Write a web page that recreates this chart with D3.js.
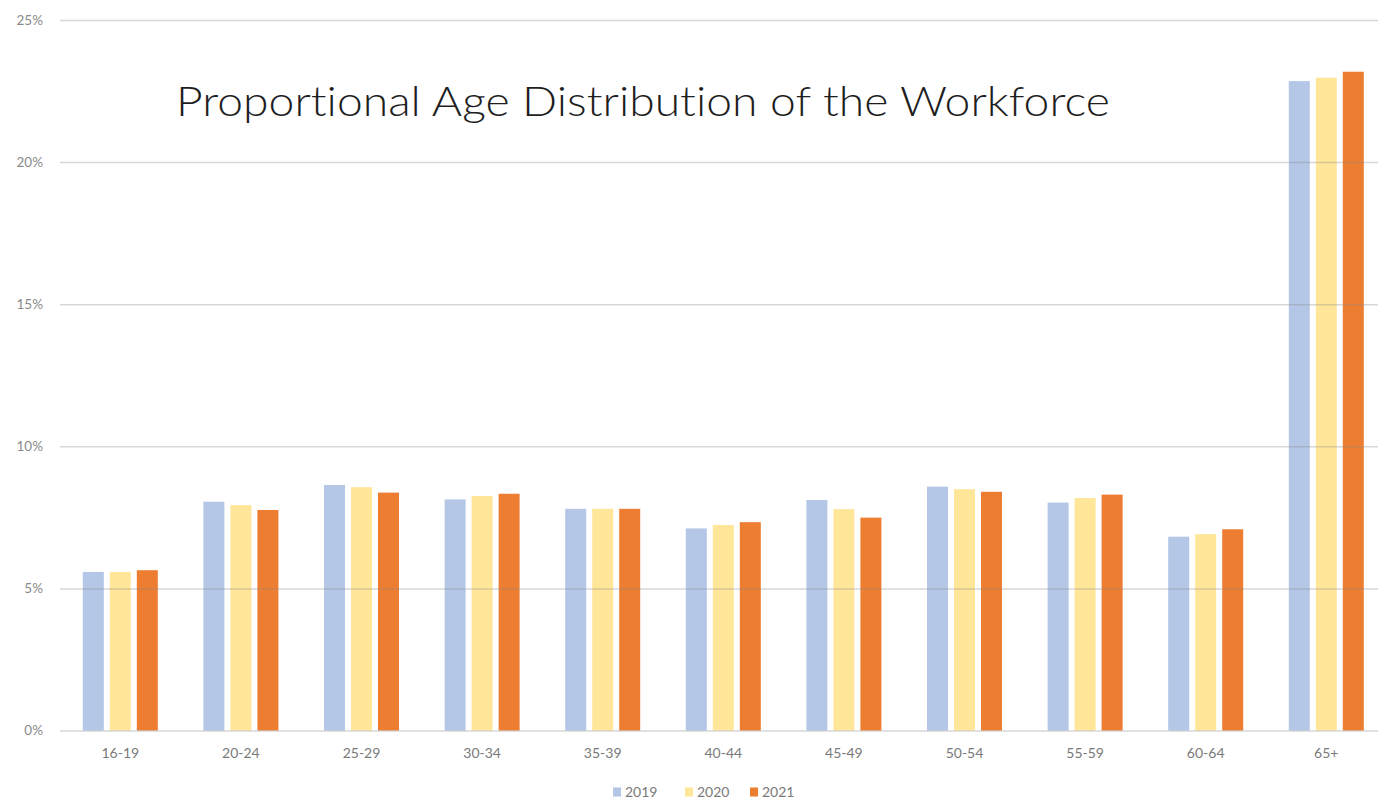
<!DOCTYPE html>
<html>
<head>
<meta charset="utf-8">
<script src="https://cdn.jsdelivr.net/npm/d3@7"></script>
<style>
  html, body { margin: 0; padding: 0; background: #ffffff; }
  svg { display: block; }
</style>
</head>
<body>
<svg id="chart" width="1378" height="802"></svg>
<script>
// Share of the workforce in each age band, by year (percent)
const categories = ["16-19", "20-24", "25-29", "30-34", "35-39", "40-44", "45-49", "50-54", "55-59", "60-64", "65+"];
const seriesNames = ["2019", "2020", "2021"];
const values2019 = [5.58, 8.05, 8.64, 8.13, 7.80, 7.11, 8.11, 8.58, 8.02, 6.82, 22.85];
const values2020 = [5.58, 7.93, 8.56, 8.25, 7.80, 7.23, 7.79, 8.49, 8.18, 6.91, 22.97];
const values2021 = [5.64, 7.76, 8.37, 8.33, 7.80, 7.33, 7.49, 8.40, 8.30, 7.08, 23.18];
const yTicks = [0, 5, 10, 15, 20, 25];
const seriesColors = ["#b4c7e7", "#ffe699", "#ed7d31"];
const titleText = "Proportional Age Distribution of the Workforce";

const seriesValues = [values2019, values2020, values2021];
const rows = categories.map((c, i) => ({
  category: c,
  bars: seriesNames.map((s, j) => ({ series: s, value: seriesValues[j][i] }))
}));

const svg = d3.select("#chart");

const y = d3.scaleLinear().domain([0, 25]).range([730.5, 20]);
const x = d3.scaleBand().domain(categories).range([60, 1386.6]).padding(0);
const xInner = d3.scaleBand().domain(seriesNames).range([-37.5, 37.5]).paddingInner(6 / 27).paddingOuter(0);
const color = d3.scaleOrdinal().domain(seriesNames).range(seriesColors);

// Bars
const groups = svg.append("g").selectAll("g")
  .data(rows)
  .join("g")
  .attr("transform", d => `translate(${x(d.category) + x.bandwidth() / 2},0)`);

groups.selectAll("rect")
  .data(d => d.bars)
  .join("rect")
  .attr("x", d => xInner(d.series))
  .attr("width", xInner.bandwidth())
  .attr("y", d => y(d.value))
  .attr("height", d => y(0) - y(d.value))
  .attr("fill", d => color(d.series));

// Horizontal gridlines, laid over the bars
const yAxis = d3.axisLeft(y)
  .tickValues(yTicks)
  .tickFormat(d => d + "%")
  .tickSize(-(1378 - 60))
  .tickPadding(17);

const yG = svg.append("g")
  .attr("transform", "translate(60,0)")
  .call(yAxis);
yG.select(".domain").remove();
yG.selectAll(".tick line")
  .attr("stroke", "#8c8c8c")
  .attr("stroke-opacity", 0.35)
  .attr("stroke-width", 1.5);
yG.selectAll(".tick text")
  .attr("fill", "#8a8a8a")
  .style("font-family", "Lato, 'Open Sans', sans-serif")
  .style("font-size", "13.5px");

// Category axis labels
const xAxis = d3.axisBottom(x).tickSize(0).tickPadding(18);
const xG = svg.append("g")
  .attr("transform", `translate(0,${y(0)})`)
  .call(xAxis);
xG.select(".domain").remove();
xG.selectAll(".tick text")
  .attr("fill", "#7a7a7a")
  .style("font-family", "Lato, 'Open Sans', sans-serif")
  .style("font-size", "14px");

// Title
svg.append("text")
  .attr("x", 176)
  .attr("y", 116)
  .attr("textLength", 934)
  .attr("lengthAdjust", "spacingAndGlyphs")
  .attr("fill", "#1e1e1e")
  .style("font-family", "Lato, 'Open Sans', sans-serif")
  .style("font-weight", 300)
  .style("font-variant-ligatures", "none")
  .style("font-size", "41px")
  .text(titleText);

// Legend
const legendX = [613, 685, 750];
const legend = svg.append("g").selectAll("g")
  .data(seriesNames)
  .join("g")
  .attr("transform", (d, i) => `translate(${legendX[i]},792)`);
legend.append("rect")
  .attr("x", 0).attr("y", -4.5)
  .attr("width", 8).attr("height", 9)
  .attr("fill", d => color(d));
legend.append("text")
  .attr("x", 12)
  .attr("dy", "0.35em")
  .attr("fill", "#7a7a7a")
  .style("font-family", "Lato, 'Open Sans', sans-serif")
  .style("font-size", "14px")
  .text(d => d);
</script>
</body>
</html>
